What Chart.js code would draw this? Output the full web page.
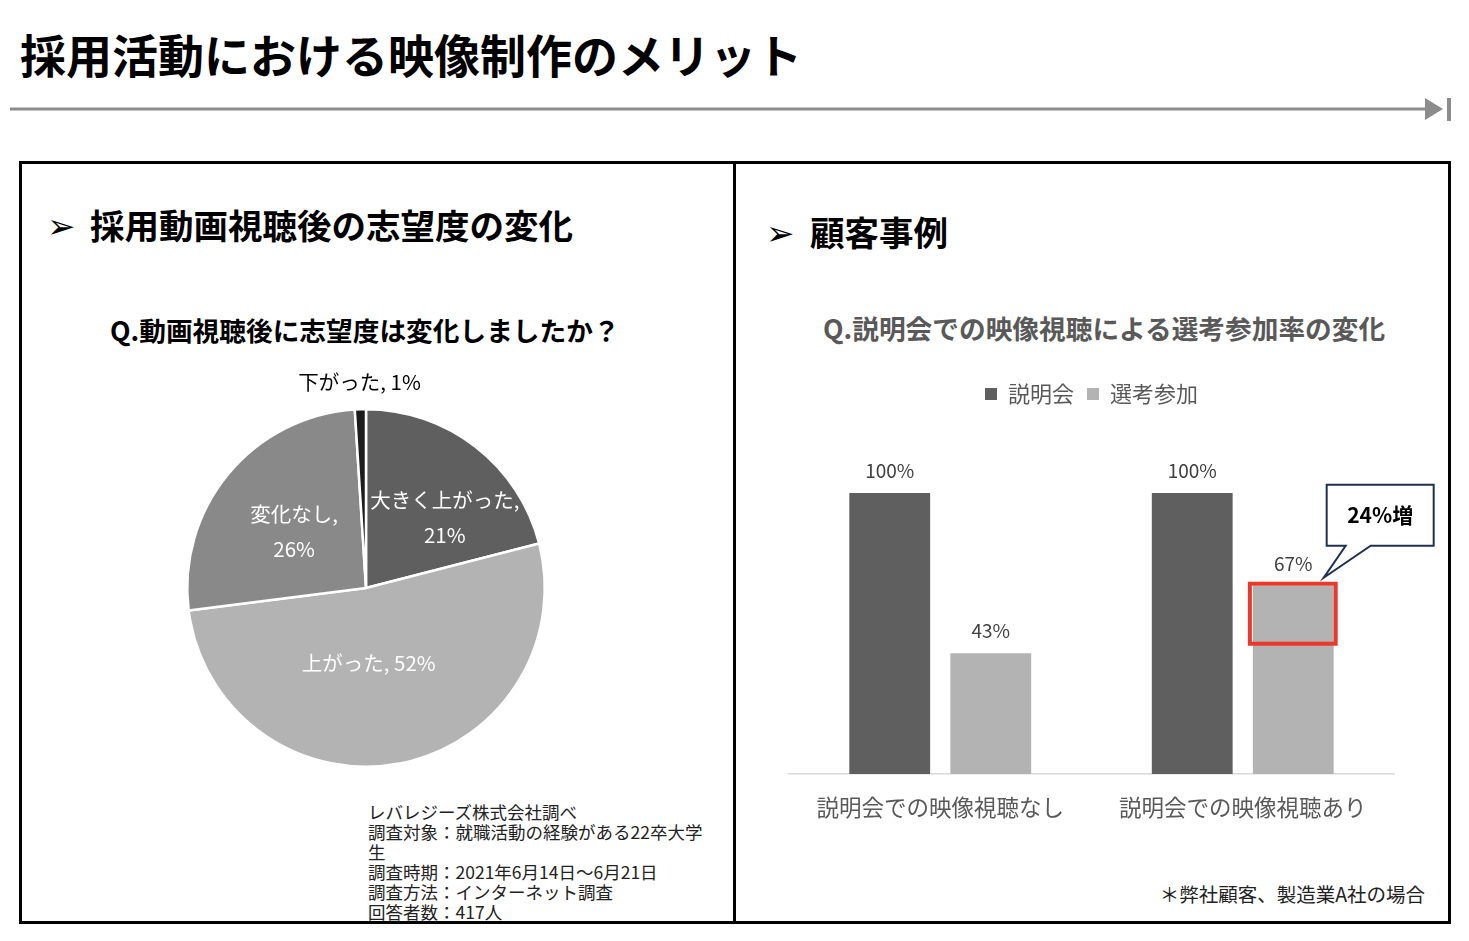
<!DOCTYPE html>
<html lang="ja">
<head>
<meta charset="utf-8">
<script src="https://cdn.jsdelivr.net/npm/chart.js@4.4.1/dist/chart.umd.min.js"></script>
<style>
  html, body { margin: 0; padding: 0; background: #fff; }
  body {
    width: 1469px; height: 941px; position: relative; overflow: hidden;
    font-family: 'Noto Sans CJK JP', 'Noto Sans', sans-serif; color: #000;
  }
  .abs { position: absolute; white-space: nowrap; line-height: 1; }
  .title { left: 20px; top: 30px; font-size: 46px; font-weight: 700; }
  .panel { position: absolute; top: 161px; height: 763px; border: 3px solid #000; box-sizing: border-box; }
  .heading { font-size: 34.5px; font-weight: 700; }
  .mark { font-family: 'DejaVu Sans', sans-serif; font-size: 34px; font-weight: 700; }
  .qtitle { font-size: 26.7px; font-weight: 700; }
  .note { left: 368px; top: 802px; font-size: 17.5px; line-height: 20px; color: #222; }
  .wrap { position: absolute; }
</style>
</head>
<body>
<div class="abs title">採用活動における映像制作のメリット</div>

<svg class="wrap" style="left:0;top:0" width="1469" height="140">
  <line x1="10" y1="109" x2="1430" y2="109" stroke="#8c8c8c" stroke-width="3"/>
  <polygon points="1425,98 1443,109 1425,120" fill="#8c8c8c"/>
  <rect x="1447" y="98" width="4" height="23" fill="#8c8c8c"/>
</svg>

<div class="panel" style="left:19px;width:717px"></div>
<div class="panel" style="left:733px;width:718px"></div>

<div class="abs mark" style="left:47px;top:209px">➢</div>
<div class="abs heading" style="left:90px;top:207px">採用動画視聴後の志望度の変化</div>
<div class="abs mark" style="left:766px;top:216px">➢</div>
<div class="abs heading" style="left:810px;top:214px">顧客事例</div>

<div class="abs qtitle" style="left:110px;top:317px">Q.動画視聴後に志望度は変化しましたか？</div>
<div class="abs qtitle" style="left:823px;top:315px;color:#595959">Q.説明会での映像視聴による選考参加率の変化</div>

<div class="wrap" style="left:156px;top:360px;width:420px;height:420px"><canvas id="pieChart"></canvas></div>
<div class="wrap" style="left:760px;top:370px;width:680px;height:481px"><canvas id="barChart"></canvas></div>

<div class="abs note">レバレジーズ株式会社調べ<br>調査対象：就職活動の経験がある22卒大学<br>生<br>調査時期：2021年6月14日～6月21日<br>調査方法：インターネット調査<br>回答者数：417人</div>
<div class="abs" style="right:44px;top:884px;font-size:19.5px;color:#222">＊弊社顧客、製造業A社の場合</div>

<script>
// ─── Data ────────────────────────────────────────────────────────────────────
const PIE_LABELS = ['大きく上がった', '上がった', '変化なし', '下がった'];
const PIE_VALUES = [21, 52, 26, 1];
const PIE_COLORS = ['#5f5f5f', '#b3b3b3', '#898989', '#1c1c1c'];

const BAR_CATEGORIES = ['説明会での映像視聴なし', '説明会での映像視聴あり'];
const SERIES_NAMES   = ['説明会', '選考参加'];
const BRIEFING       = [100, 100];
const SELECTION      = [43, 67];
const CALLOUT_TEXT   = '24%増';

const FONT = "'Noto Sans CJK JP', 'Noto Sans', sans-serif";
Chart.defaults.font.family = FONT;

// ─── Pie labels ──────────────────────────────────────────────────────────────
const LABEL_NUDGE = [[24, 0], [-14, -13], [-3, 0], [0, 0]];

const pieLabels = {
  id: 'pieLabels',
  afterDatasetsDraw(chart) {
    const ctx = chart.ctx;
    const meta = chart.getDatasetMeta(0);
    ctx.save();
    ctx.font = `20.5px ${FONT}`;
    ctx.textAlign = 'center';
    ctx.textBaseline = 'middle';
    meta.data.forEach((arc, i) => {
      const p = arc.getProps(['x', 'y', 'startAngle', 'endAngle', 'outerRadius'], true);
      const mid = (p.startAngle + p.endAngle) / 2;
      const v = PIE_VALUES[i];
      const outside = v < 5;
      const r = outside ? p.outerRadius + 27 : p.outerRadius * 0.5;
      const x = p.x + Math.cos(mid) * r + LABEL_NUDGE[i][0];
      const y = p.y + Math.sin(mid) * r + LABEL_NUDGE[i][1];
      ctx.fillStyle = outside ? '#000' : '#fff';
      if (outside || v > 40) {
        ctx.fillText(`${PIE_LABELS[i]}, ${v}%`, x, y);
      } else {
        ctx.fillText(`${PIE_LABELS[i]},`, x, y - 17);
        ctx.fillText(`${v}%`, x, y + 18);
      }
    });
    ctx.restore();
  }
};

new Chart(document.getElementById('pieChart'), {
  type: 'pie',
  data: {
    labels: PIE_LABELS,
    datasets: [{
      data: PIE_VALUES,
      backgroundColor: PIE_COLORS,
      borderColor: '#fff',
      borderWidth: 2.5
    }]
  },
  options: {
    responsive: true,
    maintainAspectRatio: false,
    animation: false,
    layout: { padding: { top: 48, bottom: 12 } },
    plugins: { legend: { display: false }, tooltip: { enabled: false } }
  },
  plugins: [pieLabels]
});

// ─── Bar chart ───────────────────────────────────────────────────────────────
const legendGap = {
  id: 'legendGap',
  beforeInit(chart) {
    const fit = chart.legend.fit;
    chart.legend.fit = function () {
      fit.bind(chart.legend)();
      this.height += 78;
    };
  }
};

const barLabels = {
  id: 'barLabels',
  afterDatasetsDraw(chart) {
    const ctx = chart.ctx;
    ctx.save();
    ctx.font = `19px ${FONT}`;
    ctx.fillStyle = '#404040';
    ctx.textAlign = 'center';
    ctx.textBaseline = 'middle';
    chart.data.datasets.forEach((ds, di) => {
      chart.getDatasetMeta(di).data.forEach((bar, i) => {
        ctx.fillText(`${ds.data[i]}%`, bar.x, bar.y - 22);
      });
    });
    ctx.restore();
  }
};

const highlight = {
  id: 'highlight',
  afterDraw(chart) {
    const ctx = chart.ctx;
    const bar = chart.getDatasetMeta(1).data[1];
    const left = bar.x - bar.width / 2;
    const right = bar.x + bar.width / 2;
    ctx.save();
    // red box on the gain
    ctx.strokeStyle = '#e8392b';
    ctx.lineWidth = 4;
    ctx.strokeRect(left - 3, bar.y - 2, bar.width + 5, 60);

    // callout
    const ax = right, ay = bar.y;
    const bx = ax - 7, by = ay - 101, bw = 107, bh = 61;
    ctx.beginPath();
    ctx.moveTo(bx, by);
    ctx.lineTo(bx + bw, by);
    ctx.lineTo(bx + bw, by + bh);
    ctx.lineTo(ax + 37, by + bh);
    ctx.lineTo(ax - 10, ay - 8);
    ctx.lineTo(ax + 12, by + bh);
    ctx.lineTo(bx, by + bh);
    ctx.closePath();
    ctx.fillStyle = '#fff';
    ctx.fill();
    ctx.strokeStyle = '#1f3050';
    ctx.lineWidth = 2;
    ctx.stroke();

    ctx.fillStyle = '#000';
    ctx.font = `bold 21px ${FONT}`;
    ctx.textAlign = 'center';
    ctx.textBaseline = 'middle';
    ctx.fillText(CALLOUT_TEXT, bx + bw / 2, by + bh / 2);
    ctx.restore();
  }
};

new Chart(document.getElementById('barChart'), {
  type: 'bar',
  data: {
    labels: BAR_CATEGORIES,
    datasets: [
      { label: SERIES_NAMES[0], data: BRIEFING,  backgroundColor: '#5f5f5f' },
      { label: SERIES_NAMES[1], data: SELECTION, backgroundColor: '#b3b3b3' }
    ]
  },
  options: {
    responsive: true,
    maintainAspectRatio: false,
    animation: false,
    categoryPercentage: 0.668,
    barPercentage: 0.8,
    layout: { padding: { left: 29, right: 46, bottom: 10 } },
    scales: {
      y: { display: false, min: 0, max: 100 },
      x: {
        grid: { display: false, drawTicks: false },
        border: { display: true, color: '#d9d9d9', width: 1.5 },
        ticks: { color: '#595959', font: { size: 22.5 }, padding: 20, maxRotation: 0 }
      }
    },
    plugins: {
      legend: {
        position: 'top',
        labels: {
          color: '#595959',
          font: { size: 22 },
          boxWidth: 12,
          boxHeight: 12,
          padding: 13
        }
      },
      tooltip: { enabled: false }
    }
  },
  plugins: [legendGap, barLabels, highlight]
});
</script>
</body>
</html>
